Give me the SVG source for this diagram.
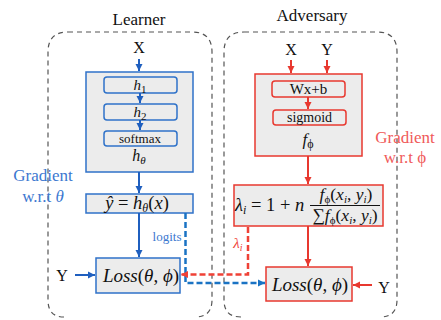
<svg xmlns="http://www.w3.org/2000/svg" width="441" height="320" viewBox="0 0 441 320">
<defs>
<marker id="ab" markerUnits="userSpaceOnUse" markerWidth="8" markerHeight="8" refX="7" refY="4" orient="auto"><path d="M0,0.5 L7,4 L0,7.5 Z" fill="#1f5fbf"/></marker>
<marker id="ar" markerUnits="userSpaceOnUse" markerWidth="8" markerHeight="8" refX="7" refY="4" orient="auto"><path d="M0,0.5 L7,4 L0,7.5 Z" fill="#e8382f"/></marker>
<marker id="abd" markerUnits="userSpaceOnUse" markerWidth="8" markerHeight="8" refX="7" refY="4" orient="auto"><path d="M0,0.5 L7,4 L0,7.5 Z" fill="#1a73c4"/></marker>
<marker id="ard" markerUnits="userSpaceOnUse" markerWidth="8" markerHeight="8" refX="7" refY="4" orient="auto"><path d="M0,0.5 L7,4 L0,7.5 Z" fill="#ef4136"/></marker>
</defs>
<style>
.t{font-family:"Liberation Serif","Times New Roman",serif;fill:#111}
.m{font-family:"Liberation Serif","Times New Roman",serif;font-style:italic;fill:#111}
.up{font-style:normal}
.grp{fill:none;stroke:#555;stroke-width:1.2;stroke-dasharray:5,4}
.bb{fill:#ececec;stroke:#2f72c9;stroke-width:1.5}
.rb{fill:#ececec;stroke:#e8382f;stroke-width:1.5}
.ib{fill:#ececec;stroke:#2f72c9;stroke-width:1.5}
.ir{fill:#ececec;stroke:#e8382f;stroke-width:1.5}
.bl{stroke:#1f5fbf;stroke-width:2;fill:none}
.rl{stroke:#e8382f;stroke-width:2;fill:none}
.bd{stroke:#1a73c4;stroke-width:2.5;fill:none;stroke-dasharray:6,3}
.rd{stroke:#ef4136;stroke-width:2.5;fill:none;stroke-dasharray:6,3}
</style>
<rect width="441" height="320" fill="#fff"/>
<g id="learner-group">
<path class="grp" d="M68,32 H192 Q212,32 212,52 V300 Q212,317 195,317 M64,317 Q48,317 48,300 V52 Q48,32 68,32"/>
<text class="t" x="139" y="25" font-size="17" text-anchor="middle">Learner</text>
</g>
<g id="adversary-group">
<path class="grp" d="M244,32 H377 Q397,32 397,52 V300 Q397,317 380,317 M241,317 Q224,317 224,300 V52 Q224,32 244,32"/>
<text class="t" x="312" y="21" font-size="17" text-anchor="middle">Adversary</text>
</g>
<g id="grad-theta">
<text class="t" x="43" y="181" font-size="17" text-anchor="middle" style="fill:#3c78d0">Gradient</text>
<text class="t" x="43" y="202" font-size="17" text-anchor="middle" style="fill:#3c78d0">w.r.t <tspan font-style="italic">θ</tspan></text>
</g>
<g id="grad-phi">
<text class="t" x="405" y="143" font-size="17" text-anchor="middle" style="fill:#f05a5a">Gradient</text>
<text class="t" x="405" y="163" font-size="17" text-anchor="middle" style="fill:#f05a5a">w.r.t ϕ</text>
</g>
<g id="learner-x"><text class="t" x="139" y="53" font-size="16" text-anchor="middle">X</text></g>
<g id="h-theta">
<rect class="bb" x="86" y="72" width="107" height="100"/>
<g id="h1"><rect class="ib" x="104" y="77" width="73" height="16" rx="3"/><text class="m" x="140" y="90" font-size="15" text-anchor="middle">h<tspan font-size="11" dy="3" class="up">1</tspan></text></g>
<g id="h2"><rect class="ib" x="104" y="104" width="73" height="16" rx="3"/><text class="m" x="140" y="117" font-size="15" text-anchor="middle">h<tspan font-size="11" dy="3" class="up">2</tspan></text></g>
<g id="softmax"><rect class="ib" x="104" y="131" width="73" height="15" rx="3"/><text class="t" x="140" y="142.5" font-size="13" text-anchor="middle">softmax</text></g>
<text class="m" x="139" y="161" font-size="16" text-anchor="middle">h<tspan font-size="11" dy="3">θ</tspan></text>
</g>
<g id="yhat">
<rect class="bb" x="86" y="194" width="107" height="19"/>
<text class="m" x="137" y="209" font-size="18.5" text-anchor="middle">ŷ <tspan class="up">=</tspan> h<tspan font-size="12" dy="3">θ</tspan><tspan dy="-3" class="up">(</tspan>x<tspan class="up">)</tspan></text>
</g>
<g id="loss-learner">
<rect class="bb" x="96" y="258" width="84" height="35"/>
<text class="m" x="141" y="282" font-size="19" text-anchor="middle">Loss<tspan class="up">(</tspan>θ<tspan class="up">, </tspan>ϕ<tspan class="up">)</tspan></text>
</g>
<g id="learner-y"><text class="t" x="62" y="281" font-size="16" text-anchor="middle">Y</text></g>
<g id="adv-xy">
<text class="t" x="291" y="55" font-size="16" text-anchor="middle">X</text>
<text class="t" x="327" y="55" font-size="16" text-anchor="middle">Y</text>
</g>
<g id="f-phi">
<rect class="rb" x="255" y="74" width="107" height="82"/>
<g id="wxb"><rect class="ir" x="272" y="81" width="73" height="16" rx="3"/><text class="t" x="308.5" y="94" font-size="15" text-anchor="middle">Wx+b</text></g>
<g id="sigmoid"><rect class="ir" x="273" y="110" width="73" height="15" rx="3"/><text class="t" x="309.5" y="122" font-size="14" text-anchor="middle">sigmoid</text></g>
<text class="m" x="308" y="145" font-size="17" text-anchor="middle">f<tspan font-size="12" dy="3" class="up">ϕ</tspan></text>
</g>
<g id="lambda">
<rect class="rb" x="234" y="185" width="149" height="41"/>
<text class="m" x="235" y="211" font-size="18.5">λ<tspan font-size="12" dy="3">i</tspan><tspan dy="-3" class="up"> = 1 + </tspan>n</text>
<line x1="310" y1="205.5" x2="380" y2="205.5" stroke="#111" stroke-width="1"/>
<text class="m" x="346" y="200" font-size="17.5" text-anchor="middle">f<tspan font-size="11" dy="3" class="up">ϕ</tspan><tspan dy="-3" class="up">(</tspan>x<tspan font-size="11" dy="3">i</tspan><tspan dy="-3" class="up">, </tspan>y<tspan font-size="11" dy="3">i</tspan><tspan dy="-3" class="up">)</tspan></text>
<text class="m" x="345" y="221" font-size="17.5" text-anchor="middle"><tspan class="up">∑</tspan>f<tspan font-size="11" dy="3" class="up">ϕ</tspan><tspan dy="-3" class="up">(</tspan>x<tspan font-size="11" dy="3">i</tspan><tspan dy="-3" class="up">, </tspan>y<tspan font-size="11" dy="3">i</tspan><tspan dy="-3" class="up">)</tspan></text>
</g>
<g id="loss-adv">
<rect class="rb" x="266" y="267" width="86" height="34"/>
<text class="m" x="310" y="291" font-size="19" text-anchor="middle">Loss<tspan class="up">(</tspan>θ<tspan class="up">, </tspan>ϕ<tspan class="up">)</tspan></text>
</g>
<g id="adv-y"><text class="t" x="384" y="293" font-size="16" text-anchor="middle">Y</text></g>
<g id="connectors">
<line class="bl" x1="139" y1="59" x2="139" y2="71" marker-end="url(#ab)"/>
<line class="bl" x1="140" y1="93" x2="140" y2="103" marker-end="url(#ab)"/>
<line class="bl" x1="140" y1="120" x2="140" y2="130" marker-end="url(#ab)"/>
<line class="bl" x1="139" y1="172" x2="139" y2="193" marker-end="url(#ab)"/>
<line class="bl" x1="139" y1="213" x2="139" y2="257" marker-end="url(#ab)"/>
<line class="bl" x1="75" y1="275" x2="95" y2="275" marker-end="url(#ab)"/>
<polyline class="bd" points="185.5,213 185.5,283 265,283" marker-end="url(#abd)"/>
<text class="t" x="167" y="241" font-size="13" text-anchor="middle" style="fill:#3c78d0">logits</text>
<line class="rl" x1="291" y1="60" x2="291" y2="73" marker-end="url(#ar)"/>
<line class="rl" x1="327" y1="60" x2="327" y2="73" marker-end="url(#ar)"/>
<line class="rl" x1="308" y1="97" x2="308" y2="109" marker-end="url(#ar)"/>
<line class="rl" x1="308" y1="156" x2="308" y2="184" marker-end="url(#ar)"/>
<line class="rl" x1="308" y1="226" x2="308" y2="266" marker-end="url(#ar)"/>
<line class="rl" x1="372" y1="285" x2="353" y2="285" marker-end="url(#ar)"/>
<polyline class="rd" points="248,227 248,274.5 181,274.5" marker-end="url(#ard)"/>
<text class="m" x="238" y="248" font-size="15" text-anchor="middle" style="fill:#ef4136">λ<tspan font-size="10" dy="3">i</tspan></text>
</g>
</svg>
